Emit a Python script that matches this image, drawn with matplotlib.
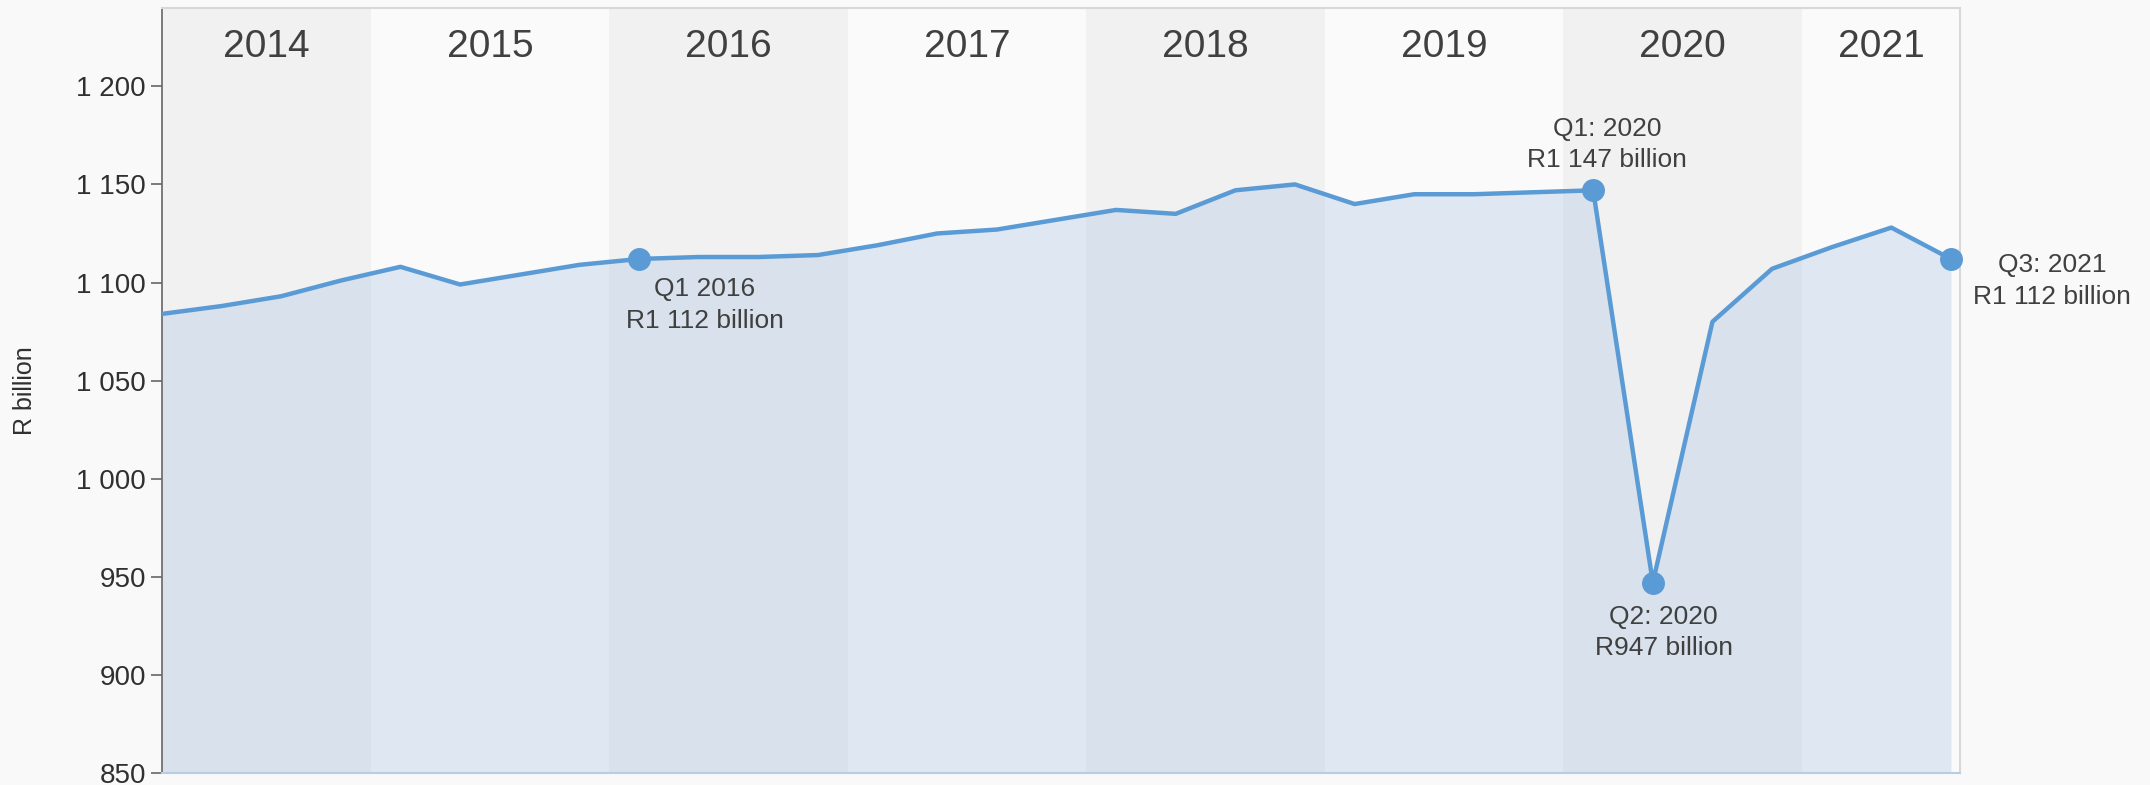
import numpy as np
import matplotlib.pyplot as plt
from matplotlib.ticker import FuncFormatter

plt.rcParams['font.family'] = ['Liberation Sans', 'DejaVu Sans']

# Quarterly values, R billion (Q1 2014 .. Q3 2021)
years = [2014, 2015, 2016, 2017, 2018, 2019, 2020, 2021]
quarters_per_year = [4, 4, 4, 4, 4, 4, 4, 3]
values = [1084, 1088, 1093, 1101,
          1108, 1099, 1104, 1109,
          1112, 1113, 1113, 1114,
          1119, 1125, 1127, 1132,
          1137, 1135, 1147, 1150,
          1140, 1145, 1145, 1146,
          1147, 947, 1080, 1107,
          1118, 1128, 1112]
yticks = [850, 900, 950, 1000, 1050, 1100, 1150, 1200]

# highlighted points: (index, label)
highlights = [(8, "Q1 2016\nR1 112 billion"),
              (24, "Q1: 2020\nR1 147 billion"),
              (25, "Q2: 2020\nR947 billion"),
              (30, "Q3: 2021\nR1 112 billion")]

line_color = '#5b9bd5'
text_color = '#404040'

x = np.arange(len(values))
xmin, xmax = 0, len(values) - 1 + 0.15
ymin, ymax = 850, 1240

fig = plt.figure(figsize=(21.5, 7.85), dpi=100, facecolor='#f9f9f9')
ax = fig.add_axes([0.0753, 0.0153, 0.8363, 0.9747])
ax.set_facecolor('#f9f9f9')

# year bands
start = 0
for i, (yr, n) in enumerate(zip(years, quarters_per_year)):
    lo, hi = start - 0.5, start + n - 0.5
    ax.axvspan(lo, hi, color='#f1f1f1' if i % 2 == 0 else '#fafafa', zorder=0, lw=0)
    cx = (max(lo, xmin) + min(hi, xmax)) / 2
    ax.text(cx, 1220, str(yr), ha='center', va='center', fontsize=28, color=text_color)
    start += n

# area + line
ax.fill_between(x, values, ymin, color='#a0bee1', alpha=0.3, lw=0, zorder=1)
ax.plot(x, values, color=line_color, lw=3.2, zorder=3)

# highlighted markers and labels
offsets = {8: ((66, -18), 'top'), 24: ((14, 18), 'bottom'),
           25: ((11, -22), 'top'), 30: ((101, -22), 'center')}
for idx, label in highlights:
    ax.plot(x[idx], values[idx], 'o', color=line_color, ms=15.5, zorder=4, clip_on=False)
    off, va = offsets[idx]
    ax.annotate(label, (x[idx], values[idx]), xytext=off, textcoords='offset pixels',
                ha='center', va=va, fontsize=19, color=text_color,
                annotation_clip=False, linespacing=1.4)

ax.set_xlim(xmin, xmax)
ax.set_ylim(ymin, ymax)
ax.set_xticks([])
ax.set_yticks(yticks)
ax.yaxis.set_major_formatter(FuncFormatter(lambda v, p: f"{v:,.0f}".replace(",", " ")))
ax.tick_params(axis='y', labelsize=20, colors='#666666', labelcolor='#303030', length=8, width=1.2)
ax.set_ylabel('R billion', fontsize=18, color='#303030', labelpad=28)

ax.spines['left'].set_color('#666666')
ax.spines['left'].set_linewidth(1.2)
ax.spines['top'].set_color('#d8d8d8')
ax.spines['right'].set_color('#d8d8d8')
ax.spines['bottom'].set_color('#b8cce4')
for s in ['top', 'right', 'bottom']:
    ax.spines[s].set_linewidth(1.5)

fig.savefig('out.png', dpi=100, facecolor=fig.get_facecolor())
